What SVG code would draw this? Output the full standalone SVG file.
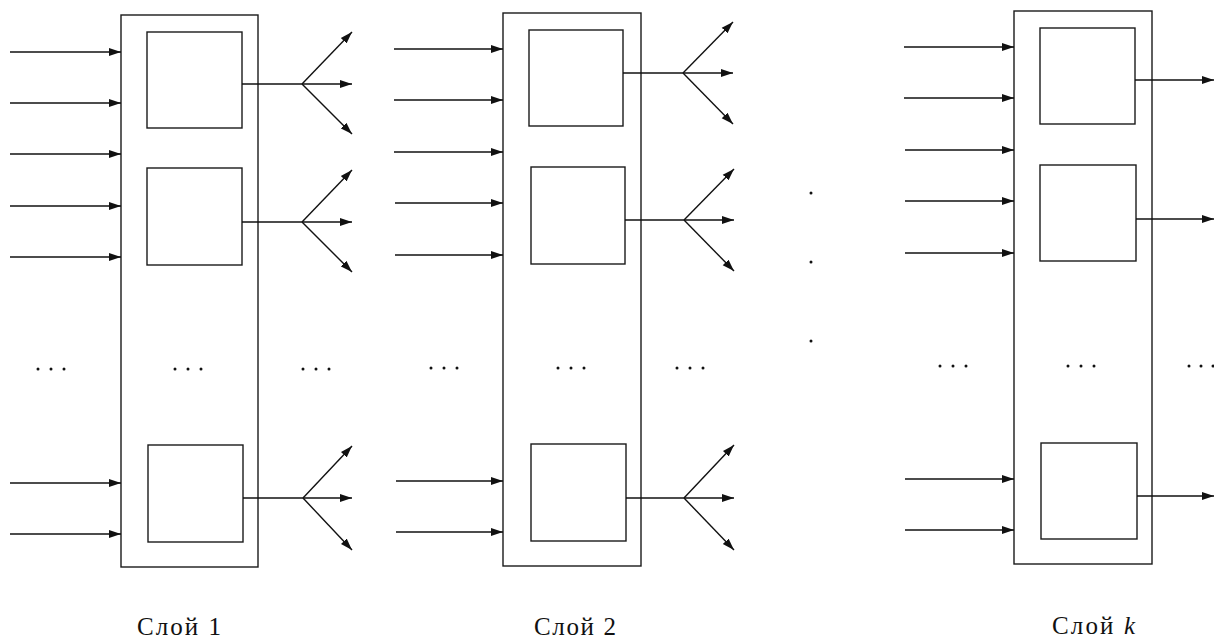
<svg xmlns="http://www.w3.org/2000/svg" width="1214" height="641" viewBox="0 0 1214 641">
<defs>
<marker id="ah" markerUnits="userSpaceOnUse" markerWidth="13" markerHeight="9" refX="12" refY="4.5" orient="auto">
<path d="M0,0.5 L12,4.5 L0,8.5 Z" fill="#111"/>
</marker>
<style>
.frame{fill:none;stroke:#1a1a1a;stroke-width:1.4}
.box{fill:#fff;stroke:#1a1a1a;stroke-width:1.4}
.ln{fill:none;stroke:#111;stroke-width:1.4}
.ar{fill:none;stroke:#111;stroke-width:1.4;marker-end:url(#ah)}
.dot{fill:#111}
.lbl{font-family:"Liberation Serif","DejaVu Serif",serif;font-size:25px;fill:#111}
</style>
</defs>
<rect width="1214" height="641" fill="#fff"/>

<g id="layer1">
<rect class="frame" x="121" y="15" width="137" height="552"/>
<rect id="l1n1" class="box" x="147" y="32" width="95" height="96"/>
<rect id="l1n2" class="box" x="147" y="168" width="95" height="97"/>
<rect id="l1n3" class="box" x="148" y="445" width="95" height="97"/>
<circle class="dot" cx="175" cy="369" r="1.5"/><circle class="dot" cx="188" cy="369" r="1.5"/><circle class="dot" cx="201" cy="369" r="1.5"/>
<text class="lbl" x="137" y="635" textLength="84" lengthAdjust="spacing">Слой 1</text>
</g>

<g id="layer2">
<rect class="frame" x="503" y="13" width="138" height="553"/>
<rect id="l2n1" class="box" x="529" y="30" width="94" height="96"/>
<rect id="l2n2" class="box" x="531" y="167" width="94" height="97"/>
<rect id="l2n3" class="box" x="531" y="444" width="95" height="97"/>
<circle class="dot" cx="558" cy="368" r="1.5"/><circle class="dot" cx="571" cy="368" r="1.5"/><circle class="dot" cx="584" cy="368" r="1.5"/>
<text class="lbl" x="534" y="635" textLength="82" lengthAdjust="spacing">Слой 2</text>
</g>

<g id="layerk">
<rect class="frame" x="1014" y="11" width="138" height="553"/>
<rect id="lkn1" class="box" x="1040" y="28" width="95" height="96"/>
<rect id="lkn2" class="box" x="1040" y="165" width="96" height="96"/>
<rect id="lkn3" class="box" x="1041" y="443" width="96" height="96"/>
<circle class="dot" cx="1068" cy="366" r="1.5"/><circle class="dot" cx="1081" cy="366" r="1.5"/><circle class="dot" cx="1094" cy="366" r="1.5"/>
<text class="lbl" x="1052" y="634" textLength="83" lengthAdjust="spacing">Слой <tspan font-style="italic">k</tspan></text>
</g>

<g id="ellipses">
<circle class="dot" cx="38" cy="369" r="1.5"/><circle class="dot" cx="51" cy="369" r="1.5"/><circle class="dot" cx="64" cy="369" r="1.5"/>
<circle class="dot" cx="303" cy="369" r="1.5"/><circle class="dot" cx="316" cy="369" r="1.5"/><circle class="dot" cx="329" cy="369" r="1.5"/>
<circle class="dot" cx="431" cy="368" r="1.5"/><circle class="dot" cx="444" cy="368" r="1.5"/><circle class="dot" cx="457" cy="368" r="1.5"/>
<circle class="dot" cx="677" cy="368" r="1.5"/><circle class="dot" cx="690" cy="368" r="1.5"/><circle class="dot" cx="703" cy="368" r="1.5"/>
<circle class="dot" cx="940" cy="366" r="1.5"/><circle class="dot" cx="953" cy="366" r="1.5"/><circle class="dot" cx="966" cy="366" r="1.5"/>
<circle class="dot" cx="1189" cy="366" r="1.5"/><circle class="dot" cx="1201" cy="366" r="1.5"/><circle class="dot" cx="1213" cy="366" r="1.5"/>
<circle class="dot" cx="811" cy="193" r="1.5"/><circle class="dot" cx="811" cy="262" r="1.5"/><circle class="dot" cx="811" cy="341" r="1.5"/>
</g>

<g id="connectors">
<line class="ar" x1="10" y1="52" x2="121" y2="52"/>
<line class="ar" x1="10" y1="103" x2="121" y2="103"/>
<line class="ar" x1="10" y1="154" x2="121" y2="154"/>
<line class="ar" x1="10" y1="206" x2="121" y2="206"/>
<line class="ar" x1="10" y1="257" x2="121" y2="257"/>
<line class="ar" x1="10" y1="483" x2="121" y2="483"/>
<line class="ar" x1="10" y1="534" x2="121" y2="534"/>
<line class="ln" x1="242" y1="84" x2="302" y2="84"/>
<line class="ar" x1="302" y1="84" x2="352" y2="32"/>
<line class="ar" x1="302" y1="84" x2="352" y2="84"/>
<line class="ar" x1="302" y1="84" x2="352" y2="134"/>
<line class="ln" x1="242" y1="222" x2="302" y2="222"/>
<line class="ar" x1="302" y1="222" x2="352" y2="170"/>
<line class="ar" x1="302" y1="222" x2="352" y2="222"/>
<line class="ar" x1="302" y1="222" x2="352" y2="272"/>
<line class="ln" x1="243" y1="498" x2="303" y2="498"/>
<line class="ar" x1="303" y1="498" x2="352" y2="446"/>
<line class="ar" x1="303" y1="498" x2="352" y2="498"/>
<line class="ar" x1="303" y1="498" x2="352" y2="550"/>
<line class="ar" x1="394" y1="49" x2="503" y2="49"/>
<line class="ar" x1="394" y1="100" x2="503" y2="100"/>
<line class="ar" x1="394" y1="152" x2="503" y2="152"/>
<line class="ar" x1="395" y1="203" x2="503" y2="203"/>
<line class="ar" x1="395" y1="255" x2="503" y2="255"/>
<line class="ar" x1="396" y1="481" x2="503" y2="481"/>
<line class="ar" x1="396" y1="532" x2="503" y2="532"/>
<line class="ln" x1="623" y1="73" x2="683" y2="73"/>
<line class="ar" x1="683" y1="73" x2="733" y2="22"/>
<line class="ar" x1="683" y1="73" x2="733" y2="73"/>
<line class="ar" x1="683" y1="73" x2="733" y2="124"/>
<line class="ln" x1="625" y1="220" x2="684" y2="220"/>
<line class="ar" x1="684" y1="220" x2="734" y2="169"/>
<line class="ar" x1="684" y1="220" x2="734" y2="220"/>
<line class="ar" x1="684" y1="220" x2="734" y2="271"/>
<line class="ln" x1="626" y1="498" x2="684" y2="498"/>
<line class="ar" x1="684" y1="498" x2="734" y2="445"/>
<line class="ar" x1="684" y1="498" x2="734" y2="498"/>
<line class="ar" x1="684" y1="498" x2="734" y2="550"/>
<line class="ar" x1="904" y1="47" x2="1014" y2="47"/>
<line class="ar" x1="904" y1="98" x2="1014" y2="98"/>
<line class="ar" x1="905" y1="150" x2="1014" y2="150"/>
<line class="ar" x1="905" y1="201" x2="1014" y2="201"/>
<line class="ar" x1="905" y1="253" x2="1014" y2="253"/>
<line class="ar" x1="905" y1="479" x2="1014" y2="479"/>
<line class="ar" x1="905" y1="530" x2="1014" y2="530"/>
<line class="ar" x1="1135" y1="80" x2="1214" y2="80"/>
<line class="ar" x1="1136" y1="219" x2="1214" y2="219"/>
<line class="ar" x1="1137" y1="496" x2="1214" y2="496"/>
</g>
</svg>
